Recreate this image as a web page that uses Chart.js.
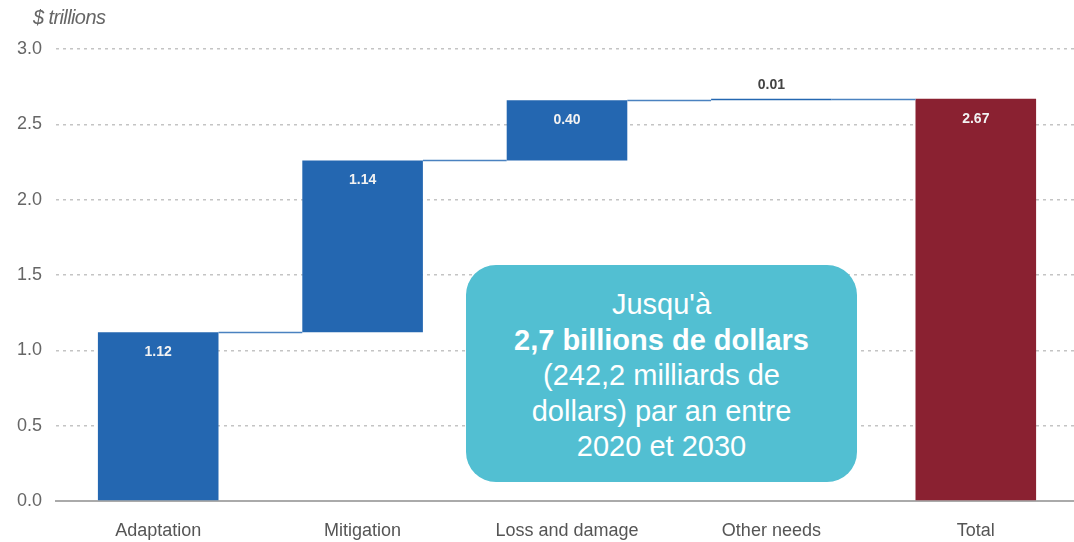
<!DOCTYPE html>
<html>
<head>
<meta charset="utf-8">
<script src="https://cdn.jsdelivr.net/npm/chart.js@4/dist/chart.umd.min.js"></script>
<style>
  html, body { margin: 0; padding: 0; background: #fff; overflow: hidden; }
  #cadre { position: relative; width: 1074px; height: 542px; overflow: hidden; }
  #titreAxe { position: absolute; left: 33px; top: 6px; font: italic 20px "Liberation Sans", Arial, sans-serif; color: #666; letter-spacing: -0.6px; }
  #encadre {
    position: absolute; left: 466px; top: 265px; width: 391px; height: 217px;
    background: #52bfd2; border-radius: 30px; color: #fff;
    font: 29px "Liberation Sans", Arial, sans-serif; line-height: 35.5px;
    text-align: center; box-sizing: border-box; padding-top: 22px;
  }
</style>
</head>
<body>
<div id="cadre">
  <canvas id="graphique" width="1078" height="542"></canvas>
  <span id="titreAxe">$ trillions</span>
  <div id="encadre">Jusqu'à<br><b>2,7 billions de dollars</b><br>(242,2 milliards de<br>dollars) par an entre<br>2020 et 2030</div>
</div>
<script>
// Données
const categories = ['Adaptation', 'Mitigation', 'Loss and damage', 'Other needs', 'Total'];
const debuts = [0, 1.12, 2.26, 2.66, 0];
const fins = [1.12, 2.26, 2.66, 2.67, 2.67];
const etiquettes = ['1.12', '1.14', '0.40', '0.01', '2.67'];
const couleurs = ['#2467b1', '#2467b1', '#2467b1', '#2467b1', '#8a2131'];
const ticksY = [0, 0.5, 1, 1.5, 2, 2.5, 3];

const police = '"Liberation Sans", Arial, sans-serif';

// Lignes de liaison + valeurs
const pluginCascade = {
    id: 'cascade',
    afterDatasetsDraw(chart) {
        const ctx = chart.ctx;
        const meta = chart.getDatasetMeta(0);
        const y = chart.scales.y;
        ctx.save();
        ctx.strokeStyle = '#4a82c0';
        ctx.lineWidth = 1.5;
        for (let i = 0; i < meta.data.length - 1; i++) {
            const a = meta.data[i], b = meta.data[i + 1];
            const yy = Math.round(y.getPixelForValue(fins[i])) + 0.5;
            ctx.beginPath();
            ctx.moveTo(a.x + a.width / 2, yy);
            ctx.lineTo(b.x - b.width / 2, yy);
            ctx.stroke();
        }
        ctx.textAlign = 'center';
        ctx.textBaseline = 'middle';
        ctx.font = 'bold 14px ' + police;
        meta.data.forEach((bar, i) => {
            const haut = y.getPixelForValue(fins[i]);
            const bas = y.getPixelForValue(debuts[i]);
            if (bas - haut > 30) {
                ctx.fillStyle = '#f2f2f2';
                ctx.fillText(etiquettes[i], bar.x, haut + 20);
            } else {
                ctx.fillStyle = '#444';
                ctx.fillText(etiquettes[i], bar.x, haut - 14);
            }
        });
        ctx.restore();
    }
};

new Chart(document.getElementById('graphique').getContext('2d'), {
    type: 'bar',
    data: {
        labels: categories,
        datasets: [{
            data: debuts.map((d, i) => [d, fins[i]]),
            backgroundColor: couleurs,
            borderSkipped: false,
            categoryPercentage: 1,
            barPercentage: 0.59
        }]
    },
    options: {
        responsive: false,
        animation: false,
        layout: { padding: { top: 49, right: 0, left: 0, bottom: 0 } },
        plugins: { legend: { display: false }, tooltip: { enabled: false } },
        scales: {
            x: {
                grid: { display: false },
                border: { display: true, color: '#aaa', width: 2 },
                ticks: { color: '#555', font: { family: police, size: 18 }, padding: 11 },
                afterFit: (s) => { s.height = 41; }
            },
            y: {
                min: 0, max: 3,
                afterBuildTicks: (s) => { s.ticks = ticksY.map(v => ({ value: v })); },
                grid: { color: '#c4c4c4', lineWidth: 1.5, drawTicks: false },
                border: { display: false, dash: [3, 4] },
                ticks: {
                    color: '#666', font: { family: police, size: 18 }, padding: 14,
                    callback: (v) => Number(v).toFixed(1)
                },
                afterFit: (s) => { s.width = 56; }
            }
        }
    },
    plugins: [pluginCascade]
});
</script>
</body>
</html>
